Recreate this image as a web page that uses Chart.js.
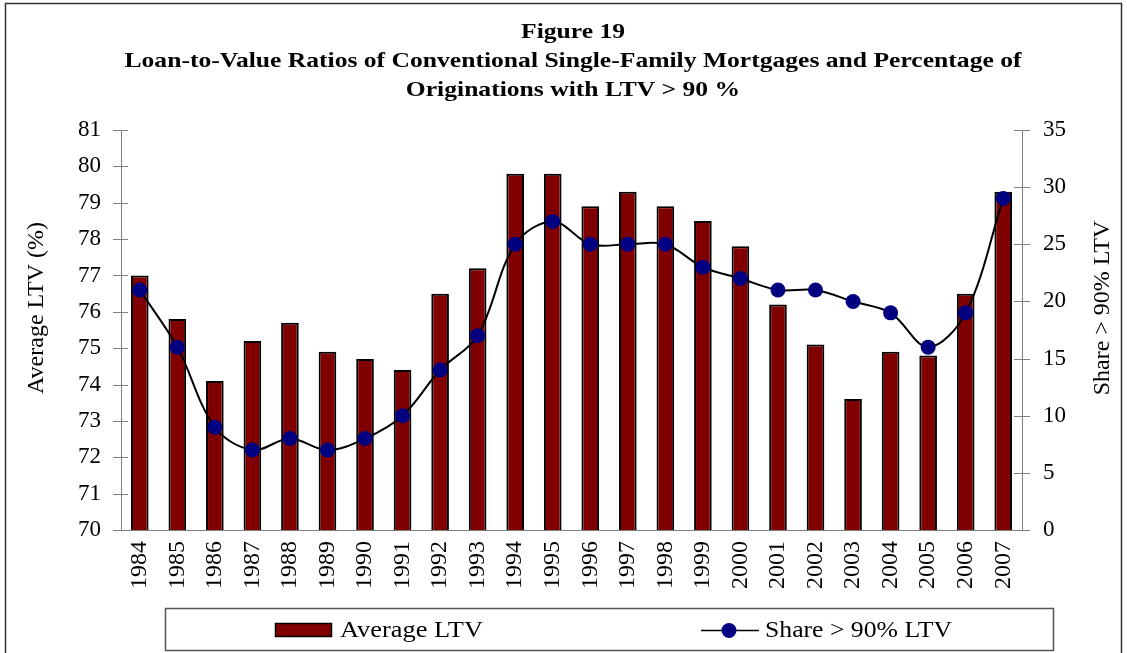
<!DOCTYPE html>
<html>
<head>
<meta charset="utf-8">
<title>Figure 19</title>
<script src="https://cdn.jsdelivr.net/npm/chart.js@4.4.1/dist/chart.umd.min.js"></script>
<style>
  html, body { margin: 0; padding: 0; background: #fff; }
  #wrap { width: 1127px; height: 653px; position: relative; }
</style>
</head>
<body>
<div id="wrap"><canvas id="ltvChart" width="1127" height="653"></canvas></div>
<script>
// values
const years = ['1984','1985','1986','1987','1988','1989','1990','1991','1992','1993','1994','1995',
               '1996','1997','1998','1999','2000','2001','2002','2003','2004','2005','2006','2007'];
const avgLtv = [77.0, 75.8, 74.1, 75.2, 75.7, 74.9, 74.7, 74.4, 76.5, 77.2, 79.8, 79.8,
                78.9, 79.3, 78.9, 78.5, 77.8, 76.2, 75.1, 73.6, 74.9, 74.8, 76.5, 79.3];
const shareOver90 = [21, 16, 9, 7, 8, 7, 8, 10, 14, 17, 25, 27,
                     25, 25, 25, 23, 22, 21, 21, 20, 19, 16, 19, 29];
const titleLines = ['Figure 19',
                    'Loan-to-Value Ratios of Conventional Single-Family Mortgages and Percentage of',
                    'Originations with LTV > 90 %'];

const SERIF = "'Liberation Serif', 'Times New Roman', serif";
const AXIS_GRAY = '#7f7f7f';

(function(){
    // the source figure's text is wider than it is tall, so stretch it horizontally
    function wideText(ctx, txt, x, y, sx) {
        ctx.save();
        ctx.translate(x, y);
        ctx.scale(sx, 1);
        ctx.fillText(txt, 0, 0);
        ctx.restore();
    }

    // frame, title, axis titles, crossing ticks and the boxed legend
    const extras = {
        id: 'extras',
        afterDraw(chart) {
            const ctx = chart.ctx;
            const area = chart.chartArea;
            const yL = chart.scales.y, yR = chart.scales.y1;
            ctx.save();

            // outer frame
            ctx.strokeStyle = '#333';
            ctx.lineWidth = 1.5;
            ctx.beginPath();
            ctx.moveTo(5.5, 660); ctx.lineTo(5.5, 3.5); ctx.lineTo(1121.5, 3.5); ctx.lineTo(1121.5, 660);
            ctx.stroke();

            // title
            ctx.fillStyle = '#000';
            ctx.font = 'bold 22px ' + SERIF;
            ctx.textAlign = 'center';
            ctx.textBaseline = 'alphabetic';
            const sx2 = 897 / ctx.measureText(titleLines[1]).width;
            titleLines.forEach((line, i) => wideText(ctx, line, 573, 38 + i * 29, sx2));

            // ticks crossing both value axes
            ctx.strokeStyle = AXIS_GRAY;
            ctx.lineWidth = 1;
            yL.ticks.forEach(t => {
                const py = Math.round(yL.getPixelForValue(t.value)) + 0.5;
                ctx.beginPath(); ctx.moveTo(area.left - 8, py); ctx.lineTo(area.left + 7, py); ctx.stroke();
            });
            yR.ticks.forEach(t => {
                const py = Math.round(yR.getPixelForValue(t.value)) + 0.5;
                ctx.beginPath(); ctx.moveTo(area.right - 8, py); ctx.lineTo(area.right + 8, py); ctx.stroke();
            });

            // axis titles (both read bottom-to-top)
            ctx.font = '24px ' + SERIF;
            ctx.textAlign = 'center';
            ctx.textBaseline = 'middle';
            [[37, 'Average LTV (%)'], [1103, 'Share > 90% LTV']].forEach(([x, txt]) => {
                ctx.save();
                ctx.translate(x, 308);
                ctx.rotate(-Math.PI / 2);
                ctx.fillText(txt, 0, 0);
                ctx.restore();
            });

            // legend box
            ctx.strokeStyle = '#555';
            ctx.lineWidth = 1.5;
            ctx.strokeRect(165.5, 608.5, 888, 42);

            const barDs = chart.data.datasets[1];
            const lineDs = chart.data.datasets[0];
            ctx.fillStyle = barDs.backgroundColor;
            ctx.fillRect(275, 623, 57, 14);
            ctx.strokeStyle = '#000';
            ctx.lineWidth = 1.5;
            ctx.strokeRect(275.5, 623.5, 56, 13);

            ctx.beginPath(); ctx.moveTo(701, 630.5); ctx.lineTo(759, 630.5); ctx.stroke();
            ctx.fillStyle = lineDs.pointBackgroundColor;
            ctx.beginPath(); ctx.arc(729, 630.5, 7.5, 0, Math.PI * 2); ctx.fill();

            ctx.fillStyle = '#000';
            ctx.font = '23px ' + SERIF;
            ctx.textAlign = 'left';
            ctx.textBaseline = 'middle';
            wideText(ctx, barDs.label, 340, 631, 143 / ctx.measureText(barDs.label).width);
            wideText(ctx, lineDs.label, 765, 631, 187 / ctx.measureText(lineDs.label).width);

            ctx.restore();
        }
    };

    try {
        const el = document.getElementById('ltvChart');
        new Chart(el, {
            type: 'bar',
            data: {
                labels: years,
                datasets: [
                    {
                        type: 'line', label: 'Share > 90% LTV', data: shareOver90, yAxisID: 'y1',
                        borderColor: '#000', borderWidth: 2, tension: 0.35,
                        pointRadius: 7.5, pointBackgroundColor: '#000080', pointBorderColor: '#000080', pointBorderWidth: 0,
                        order: 0
                    },
                    {
                        type: 'bar', label: 'Average LTV', data: avgLtv, yAxisID: 'y',
                        backgroundColor: '#800000', borderColor: '#000', borderWidth: 2,
                        barPercentage: 0.47, categoryPercentage: 1, order: 1
                    }
                ]
            },
            options: {
                responsive: false,
                animation: false,
                events: [],
                layout: { padding: { left: 20, right: 0, top: 130, bottom: 0 } },
                plugins: {
                    legend: { display: false },
                    tooltip: { enabled: false },
                    title: { display: false }
                },
                scales: {
                    x: {
                        offset: true,
                        grid: { display: true, drawOnChartArea: false, drawTicks: false },
                        border: { color: AXIS_GRAY, width: 1 },
                        ticks: { color: '#000', font: { family: SERIF, size: 24 }, minRotation: 90, maxRotation: 90, padding: 11, autoSkip: false },
                        afterFit(s) { s.height = 123; }
                    },
                    y: {
                        position: 'left', min: 70, max: 81,
                        grid: { display: true, drawOnChartArea: false, drawTicks: false },
                        border: { color: AXIS_GRAY, width: 1 },
                        ticks: { stepSize: 1, color: '#000', font: { family: SERIF, size: 23 }, padding: 20 },
                        afterFit(s) { s.width = 101; }
                    },
                    y1: {
                        position: 'right', min: 0, max: 35,
                        grid: { display: true, drawOnChartArea: false, drawTicks: false },
                        border: { color: AXIS_GRAY, width: 1 },
                        ticks: { stepSize: 5, color: '#000', font: { family: SERIF, size: 23 }, padding: 21 },
                        afterFit(s) { s.width = 105; }
                    }
                }
            },
            plugins: [extras]
        });
    } catch (e) {
        console.error('Failed to render LTV chart', e);
    }
})();
</script>
</body>
</html>
